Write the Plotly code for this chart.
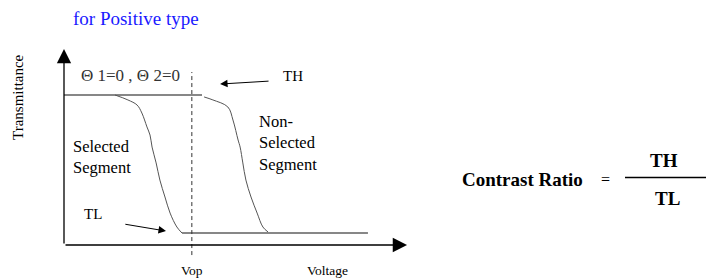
import plotly.graph_objects as go

# ---- data (voltage in arbitrary units, transmittance normalised to TH = 1) ----
TH = 1.0
TL = 0.08
VOP = 3.76

sel_volt = [1.50, 1.88, 2.15, 2.29, 2.44, 2.53, 2.59, 2.71, 2.82, 2.97, 3.12, 3.32, 3.47]
sel_trans = [1.00, 0.967, 0.933, 0.88, 0.787, 0.733, 0.653, 0.547, 0.433, 0.32, 0.213, 0.12, 0.08]

non_volt = [4.12, 4.38, 4.82, 4.97, 5.12, 5.18, 5.26, 5.35, 5.50, 5.68, 5.85, 6.00]
non_trans = [0.987, 0.967, 0.92, 0.833, 0.70, 0.653, 0.547, 0.433, 0.32, 0.213, 0.12, 0.087]

th_volt = [0.0, 4.06]
tl_volt = [3.47, 8.94]
vop_trans = [-0.067, 1.153]
x_axis_end = 10.09
y_axis_end = 1.307

W, H = 715, 278
PX_PER_V = 34.0
PX_PER_T = 150.0
X0, Y0 = 64, 245

def px(x):
    return x / W

def py(y):
    return 1 - y / H

SERIF = "Liberation Serif, Times New Roman, serif"

fig = go.Figure()

fig.add_trace(go.Scatter(x=th_volt, y=[TH, TH], mode="lines",
                         line=dict(color="#111", width=1.2), hoverinfo="skip"))
fig.add_trace(go.Scatter(x=tl_volt, y=[TL, TL], mode="lines",
                         line=dict(color="#111", width=1.2), hoverinfo="skip"))
fig.add_trace(go.Scatter(x=sel_volt, y=sel_trans, mode="lines", line_shape="spline",
                         line=dict(color="#555", width=1), hoverinfo="skip"))
fig.add_trace(go.Scatter(x=non_volt, y=non_trans, mode="lines", line_shape="spline",
                         line=dict(color="#555", width=1), hoverinfo="skip"))
fig.add_trace(go.Scatter(x=[VOP, VOP], y=vop_trans, mode="lines",
                         line=dict(color="#333", width=1, dash="4px,3px"), hoverinfo="skip"))

# axes with arrowheads
fig.add_annotation(x=x_axis_end, y=0, ax=0, ay=0, xref="x", yref="y", axref="x", ayref="y",
                   showarrow=True, arrowhead=2, arrowsize=2.2, arrowwidth=1.3,
                   arrowcolor="#000", text="")
fig.add_annotation(x=0, y=y_axis_end, ax=0, ay=0, xref="x", yref="y", axref="x", ayref="y",
                   showarrow=True, arrowhead=2, arrowsize=2.2, arrowwidth=1.3,
                   arrowcolor="#000", text="")
# TH / TL pointers
fig.add_annotation(x=4.59, y=1.073, ax=6.06, ay=1.093, xref="x", yref="y", axref="x", ayref="y",
                   showarrow=True, arrowhead=2, arrowsize=1.5, arrowwidth=1,
                   arrowcolor="#000", text="")
fig.add_annotation(x=3.0, y=0.093, ax=1.76, ay=0.14, xref="x", yref="y", axref="x", ayref="y",
                   showarrow=True, arrowhead=2, arrowsize=1.5, arrowwidth=1,
                   arrowcolor="#000", text="")

def text(t, x, y, size, color="#000", xanchor="left", bold=False, angle=0, family=SERIF):
    if bold:
        t = "<b>" + t + "</b>"
    fig.add_annotation(x=px(x), y=py(y), xref="paper", yref="paper", text=t,
                       showarrow=False, xanchor=xanchor, yanchor="middle", textangle=angle,
                       font=dict(family=family, size=size, color=color), align="left")

text("for Positive type", 71, 18, 19, color="#1a1aff")
text("Transmittance", 18, 97, 15, xanchor="center", angle=-90)
text("\u0398 1=0 , \u0398 2=0", 79, 75, 17, color="#333")
text("TH", 281, 76, 15)
text("Non-<br>Selected<br>Segment", 257, 143, 16.5)
text("Selected<br>Segment", 71, 157, 16.5)
text("TL", 82, 214, 15)
text("Vop", 192, 270, 13.5, xanchor="center")
text("Voltage", 327, 270, 13.5, xanchor="center")

text("Contrast Ratio", 460, 179, 19, bold=True)
text("=", 605, 179, 16, xanchor="center")
text("TH", 664, 160, 19, xanchor="center", bold=True)
text("TL", 667, 198, 19, xanchor="center", bold=True)
fig.add_shape(type="line", xref="paper", yref="paper",
              x0=px(625), x1=px(706), y0=py(177.5), y1=py(177.5),
              line=dict(color="#000", width=1.6))

fig.update_layout(
    width=W, height=H, margin=dict(l=0, r=0, t=0, b=0),
    paper_bgcolor="white", plot_bgcolor="white", showlegend=False,
    xaxis=dict(range=[-X0 / PX_PER_V, (W - X0) / PX_PER_V], visible=False, fixedrange=True),
    yaxis=dict(range=[(Y0 - H) / PX_PER_T, Y0 / PX_PER_T], visible=False, fixedrange=True),
)

fig.write_html("out.html", config={"displayModeBar": False},
               post_script="document.body.style.margin='0';document.body.style.overflow='hidden';")
